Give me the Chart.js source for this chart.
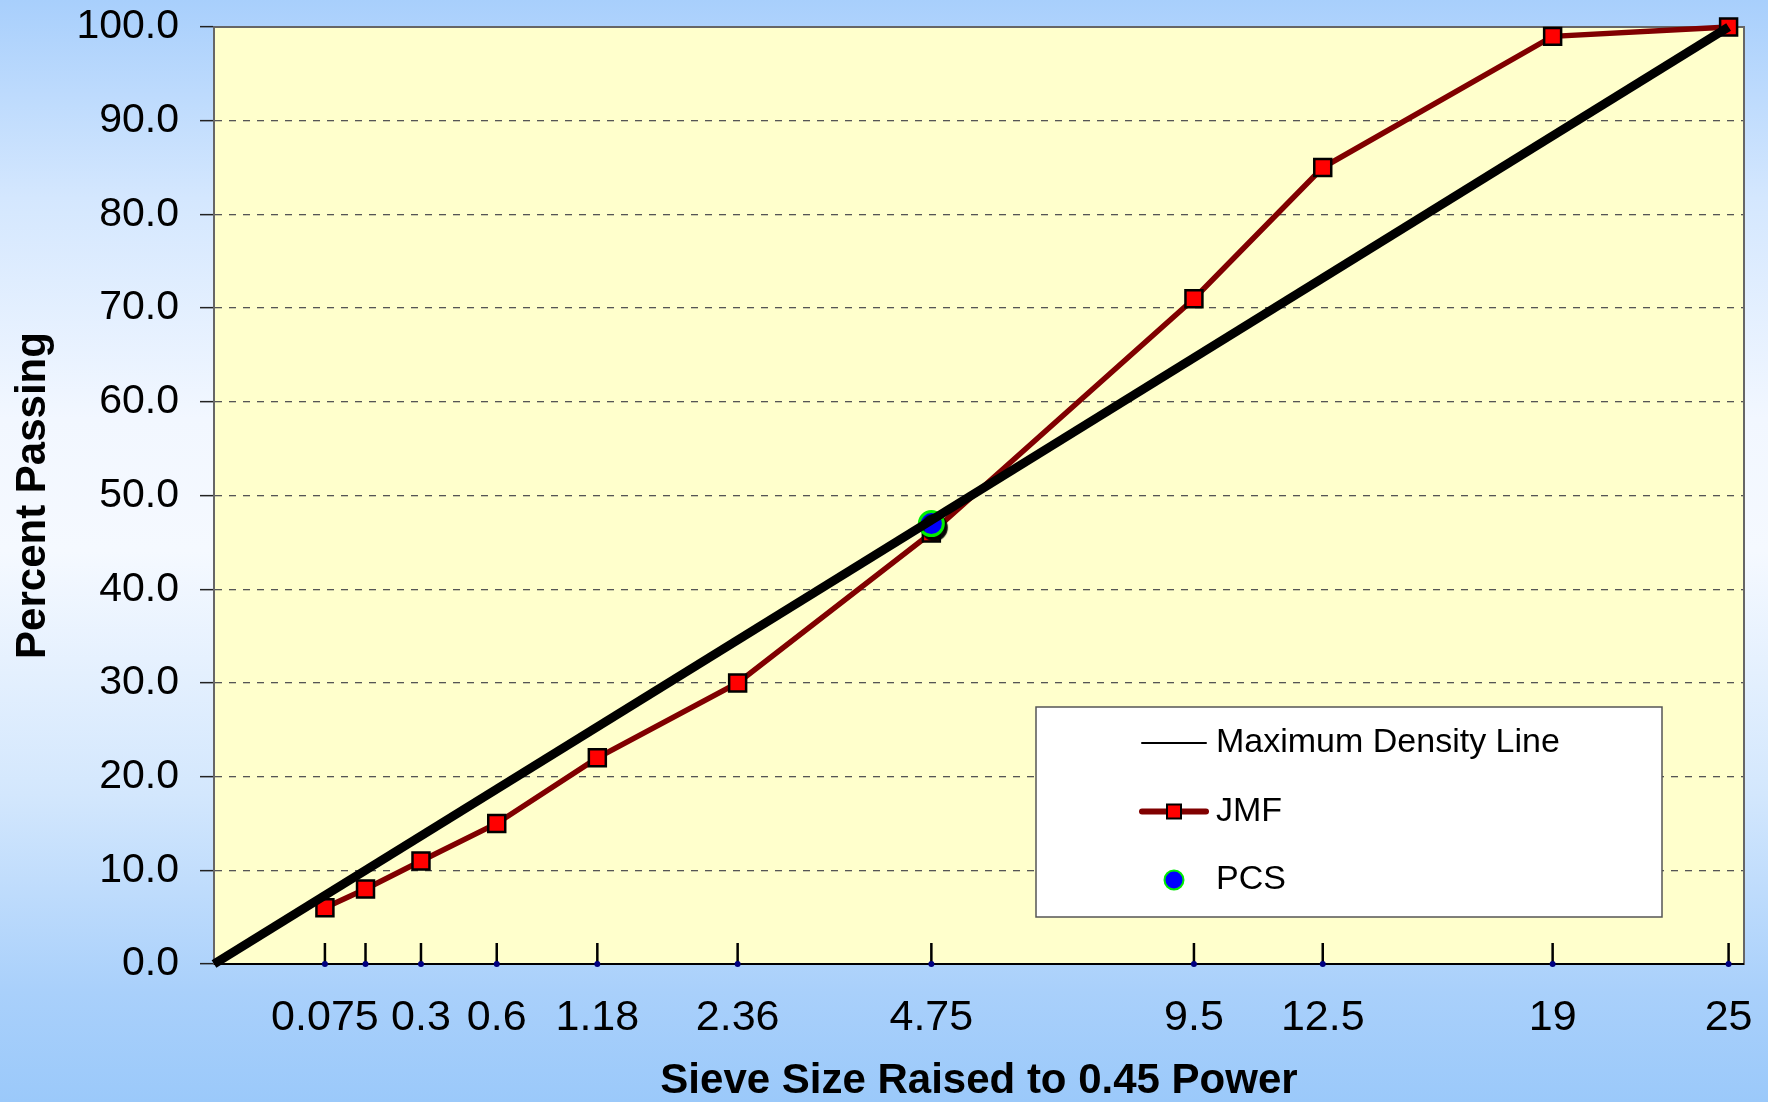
<!DOCTYPE html>
<html>
<head>
<meta charset="utf-8">
<script src="https://cdn.jsdelivr.net/npm/chart.js@4.4.1/dist/chart.umd.min.js"></script>
<style>
  html, body { margin: 0; padding: 0; }
  body {
    width: 1768px; height: 1102px; overflow: hidden;
    background: linear-gradient(to bottom, #a8cffc 0%, #d4e7fe 18%, #f2f7ff 38%, #f5f9ff 50%, #d3e7fd 72%, #a9d0fb 90%, #9bc9fa 100%);
  }
  canvas { display: block; }
</style>
</head>
<body>
<canvas id="myChart" width="1768" height="1102"></canvas>
<script>
// sieve sizes in mm, x axis is size^0.45
const POWER = 0.45;
const sieveSizes = [0.075, 0.15, 0.3, 0.6, 1.18, 2.36, 4.75, 9.5, 12.5, 19, 25];
const sieveLabels = ["0.075", "", "0.3", "0.6", "1.18", "2.36", "4.75", "9.5", "12.5", "19", "25"];
const jmfPassing = [6, 8, 11, 15, 22, 30, 46, 71, 85, 99, 100];
const pcsSieve = [4.75];
const pcsPassing = [47];
const maxDensitySieve = [0, 25];
const maxDensityPassing = [0, 100];

const FONT = "'Liberation Sans', Arial, sans-serif";

const setup = () => {
  const pow = (s) => Math.pow(s, POWER);

  //plot area background + frame
  const plotArea = {
    id: "plotArea",
    beforeDraw(chart) {
      const { ctx, chartArea: a } = chart;
      ctx.save();
      ctx.fillStyle = "#ffffcc";
      ctx.fillRect(a.left, a.top, a.width, a.height);
      ctx.restore();
    },
    beforeDatasetsDraw(chart) {
      const { ctx, chartArea: a } = chart;
      ctx.save();
      ctx.strokeStyle = "#666";
      ctx.lineWidth = 2;
      ctx.strokeRect(a.left, a.top, a.width, a.height);
      ctx.beginPath();
      ctx.strokeStyle = "#000";
      ctx.moveTo(a.left, a.bottom);
      ctx.lineTo(a.right, a.bottom);
      ctx.stroke();
      ctx.restore();
    },
    // dark shadow under the PCS marker
    beforeDatasetDraw(chart, args) {
      if (args.index !== 2) return;
      const ctx = chart.ctx;
      ctx.save();
      ctx.shadowColor = "rgba(0,0,0,0.95)";
      ctx.shadowOffsetX = 3;
      ctx.shadowOffsetY = 4;
      ctx.shadowBlur = 1;
    },
    afterDatasetDraw(chart, args) {
      if (args.index !== 2) return;
      chart.ctx.restore();
    },
    afterDatasetsDraw(chart) {
      // small upward marks at each sieve
      const ctx = chart.ctx;
      const xs = chart.scales.x;
      const ys = chart.scales.y;
      const y0 = ys.getPixelForValue(0);
      ctx.save();
      ctx.lineWidth = 2.5;
      ctx.strokeStyle = "#000";
      ctx.beginPath();
      for (const s of sieveSizes) {
        const px = xs.getPixelForValue(pow(s));
        ctx.moveTo(px, y0 - 1);
        ctx.lineTo(px, y0 - 21);
      }
      ctx.stroke();
      ctx.fillStyle = "#000080";
      for (const s of sieveSizes) {
        const px = xs.getPixelForValue(pow(s));
        ctx.beginPath();
        ctx.arc(px, y0, 3, 0, Math.PI * 2);
        ctx.fill();
      }
      ctx.restore();
    },
  };

  //legend box inside the plot
  const legendBox = {
    id: "legendBox",
    afterDraw(chart) {
      const ctx = chart.ctx;
      const x = 1036, y = 707, w = 626, h = 210;
      ctx.save();
      ctx.fillStyle = "#fff";
      ctx.fillRect(x, y, w, h);
      ctx.strokeStyle = "#555";
      ctx.lineWidth = 1.5;
      ctx.strokeRect(x, y, w, h);
      ctx.font = "34px " + FONT;
      ctx.textBaseline = "middle";
      ctx.fillStyle = "#000";
      let rowY = y + 36;
      const cx = x + 138;
      chart.data.datasets.forEach((ds) => {
        if (!ds.inLegend) return;
        if (ds.legendLine) {
          ctx.beginPath();
          ctx.strokeStyle = ds.borderColor;
          ctx.lineWidth = ds.legendLine;
          ctx.lineCap = "round";
          ctx.moveTo(cx - 32, rowY);
          ctx.lineTo(cx + 32, rowY);
          ctx.stroke();
        }
        if (ds.pointStyle === "rect") {
          ctx.fillStyle = ds.pointBackgroundColor;
          ctx.strokeStyle = ds.pointBorderColor;
          ctx.lineWidth = 2;
          ctx.fillRect(cx - 7, rowY - 7, 14, 14);
          ctx.strokeRect(cx - 7, rowY - 7, 14, 14);
        } else if (ds.pointStyle === "circle") {
          ctx.beginPath();
          ctx.fillStyle = ds.pointBackgroundColor;
          ctx.strokeStyle = ds.pointBorderColor;
          ctx.lineWidth = 2;
          ctx.arc(cx, rowY, 9.5, 0, Math.PI * 2);
          ctx.fill();
          ctx.stroke();
        }
        ctx.fillStyle = "#000";
        ctx.fillText(ds.label, x + 180, rowY);
        rowY += 68.5;
      });
      ctx.restore();
    },
  };

  const data = {
    datasets: [
      {
        label: "Maximum Density Line",
        data: maxDensitySieve.map((s, i) => ({ x: pow(s), y: maxDensityPassing[i] })),
        showLine: true,
        borderColor: "#000",
        borderWidth: 9,
        pointRadius: 0,
        order: 1,
        clip: false,
        inLegend: true,
        legendLine: 2,
      },
      {
        label: "JMF",
        data: sieveSizes.map((s, i) => ({ x: pow(s), y: jmfPassing[i] })),
        showLine: true,
        borderColor: "#800000",
        borderWidth: 5.5,
        pointStyle: "rect",
        pointRadius: 12,
        pointBackgroundColor: "#ff0000",
        pointBorderColor: "#000",
        pointBorderWidth: 2.5,
        order: 3,
        clip: false,
        inLegend: true,
        legendLine: 6,
      },
      {
        label: "PCS",
        data: pcsSieve.map((s, i) => ({ x: pow(s), y: pcsPassing[i] })),
        showLine: false,
        pointStyle: "circle",
        pointRadius: 12,
        pointBackgroundColor: "#0000ff",
        pointBorderColor: "#00ee00",
        pointBorderWidth: 3,
        order: 2,
        clip: false,
        inLegend: true,
      },
    ],
  };

  const config = {
    type: "scatter",
    data: data,
    options: {
      responsive: false,
      animation: false,
      devicePixelRatio: 1,
      layout: { autoPadding: false, padding: { top: 27, right: 24, left: 0, bottom: 0 } },
      plugins: {
        legend: { display: false },
        tooltip: { enabled: false },
      },
      scales: {
        x: {
          type: "linear",
          min: 0,
          max: 4.3,
          afterFit: (scale) => {
            scale.height = 138;
            scale.paddingLeft = 0;
            scale.paddingRight = 0;
          },
          afterBuildTicks: (scale) => {
            scale.ticks = sieveSizes.map((s) => ({ value: pow(s) }));
          },
          grid: { display: false },
          border: { display: true, color: "#000", width: 1.5 },
          ticks: {
            autoSkip: false,
            maxRotation: 0,
            minRotation: 0,
            padding: 20,
            color: "#000",
            font: { family: FONT, size: 43 },
            callback: (value, index) => sieveLabels[index],
          },
          title: {
            display: true,
            text: "Sieve Size Raised to 0.45 Power",
            color: "#000",
            font: { family: FONT, size: 42, weight: "bold", lineHeight: 1 },
            padding: { top: 0, bottom: 0 },
          },
        },
        y: {
          min: 0,
          max: 100,
          afterFit: (scale) => {
            scale.width = 214;
            scale.paddingTop = 0;
            scale.paddingBottom = 0;
          },
          ticks: {
            stepSize: 10,
            padding: 21,
            color: "#000",
            font: { family: FONT, size: 41 },
            callback: (value) => value.toFixed(1),
          },
          grid: {
            color: "#555",
            lineWidth: 1.3,
            tickLength: 14,
            tickColor: "#222",
            tickWidth: 1.5,
            tickBorderDash: [],
          },
          border: { display: true, color: "#222", width: 2, dash: [7, 7] },
          title: {
            display: true,
            text: "Percent Passing",
            color: "#000",
            font: { family: FONT, size: 42, weight: "bold", lineHeight: 1.2 },
            padding: { top: 8, bottom: 0 },
          },
        },
      },
    },
    plugins: [plotArea, legendBox],
  };

  const myChart = new Chart(document.getElementById("myChart"), config);
};

setup();
</script>
</body>
</html>
